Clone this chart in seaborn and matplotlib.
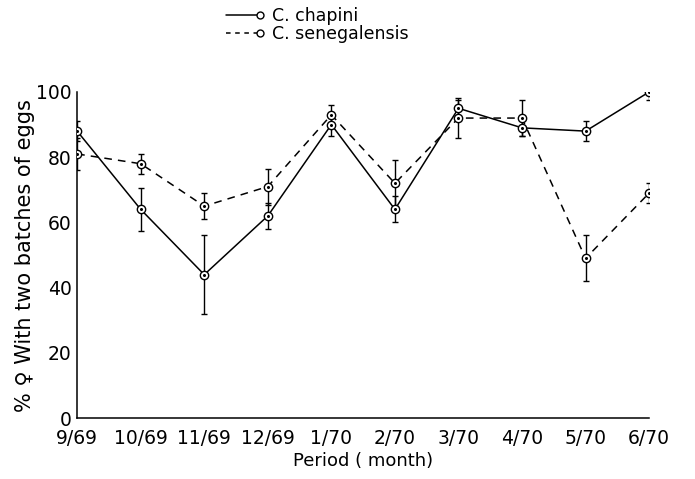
import numpy as np
import pandas as pd
import matplotlib
matplotlib.use('Agg')
import matplotlib.pyplot as plt
import seaborn as sns
from matplotlib.legend_handler import HandlerLine2D

# data
periods = ['9/69', '10/69', '11/69', '12/69', '1/70', '2/70', '3/70', '4/70', '5/70', '6/70']
chapini = [88, 64, 44, 62, 90, 64, 95, 89, 88, 100]
chapini_err = [3, 6.5, 12, 4, 3.5, 4, 2.5, 2.5, 3, 2.5]
seneg = [81, 78, 65, 71, 93, 72, 92, 92, 49, 69]
seneg_err = [5, 3, 4, 5.5, 3, 7, 6, 5.5, 7, 3]

x = np.arange(len(periods))
df = pd.DataFrame({
    'x': np.concatenate([x, x]),
    'pct': chapini + seneg,
    'species': ['C. chapini'] * len(x) + ['C. senegalensis'] * len(x),
})

sns.set_style('white')
plt.rcParams['font.family'] = ['DejaVu Sans']
plt.rcParams['text.color'] = 'black'
plt.rcParams['axes.labelcolor'] = 'black'
plt.rcParams['xtick.color'] = 'black'
plt.rcParams['ytick.color'] = 'black'

fig = plt.figure(figsize=(6.95, 4.79), dpi=100)
ax = fig.add_axes([0.111, 0.127, 0.823, 0.681])

sns.lineplot(data=df, x='x', y='pct', style='species',
             dashes={'C. chapini': '', 'C. senegalensis': (5, 4)},
             color='black', lw=1.1, markers={'C. chapini': 'o', 'C. senegalensis': 'o'},
             markersize=6, markerfacecolor='white', markeredgecolor='black',
             markeredgewidth=1.0, ax=ax, legend=False, zorder=3)
ax.errorbar(x, chapini, yerr=chapini_err, fmt='none', ecolor='black',
            elinewidth=1.0, capsize=2, capthick=1.0, zorder=2)
ax.errorbar(x, seneg, yerr=seneg_err, fmt='none', ecolor='black',
            elinewidth=1.0, capsize=2, capthick=1.0, zorder=2, ls='--')
for vals in (chapini, seneg):
    ax.plot(x, vals, ls='none', marker='o', ms=1.2, color='black', zorder=4)

ax.set_xlim(0, 9)
ax.set_ylim(0, 100)
ax.set_xticks(x)
ax.set_xticklabels(periods)
ax.set_yticks([0, 20, 40, 60, 80, 100])
ax.tick_params(direction='in', length=5, width=1, labelsize=13.5, pad=4)
ax.tick_params(axis='x', pad=8)
for s in ('top', 'right'):
    ax.spines[s].set_visible(False)
for s in ('left', 'bottom'):
    ax.spines[s].set_color('black')
    ax.spines[s].set_linewidth(1.1)
ax.set_ylabel('% ♀ With two batches of eggs', fontsize=15, labelpad=1)
ax.set_xlabel('Period ( month)', fontsize=13, labelpad=3)


class EndMarker(HandlerLine2D):
    # marker only at the right end of the legend line
    def create_artists(self, legend, orig_handle, xdescent, ydescent,
                       width, height, fontsize, trans):
        arts = super().create_artists(legend, orig_handle, xdescent, ydescent,
                                      width, height, fontsize, trans)
        for a in arts:
            n = len(a.get_xdata())
            a.set_markevery([n - 1])
        return arts


h1 = plt.Line2D([], [], color='black', lw=1.1, marker='o', ms=5,
                mfc='white', mec='black', label='C. chapini')
h2 = plt.Line2D([], [], color='black', lw=1.1, ls=(0, (3, 3)), marker='o', ms=5,
                mfc='white', mec='black', label='C. senegalensis')
fig.legend(handles=[h1, h2], loc='upper left', bbox_to_anchor=(0.317, 0.985),
           frameon=False, fontsize=12.5, handlelength=2.6, handletextpad=0.35,
           labelspacing=0.0, borderpad=0, borderaxespad=0, numpoints=2,
           handler_map={plt.Line2D: EndMarker(numpoints=2)})

fig.savefig('out.png', dpi=100)
